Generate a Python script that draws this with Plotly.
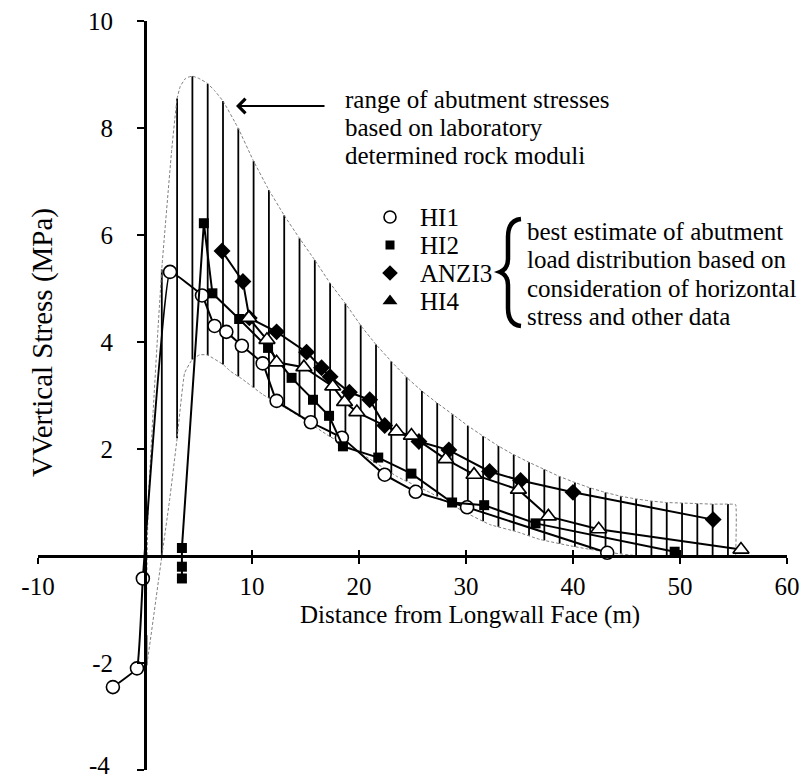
import numpy as np
import plotly.graph_objects as go

# ---------------- data ----------------
hi1_x = [-3.0, -0.75, -0.2, 2.34, 5.33, 6.5, 7.6, 9.05, 11.0, 12.3, 15.5, 18.4, 22.4, 25.3, 30.1, 43.2]
hi1_y = [-2.45, -2.1, -0.42, 5.31, 4.87, 4.3, 4.19, 3.93, 3.6, 2.9, 2.5, 2.21, 1.52, 1.2, 0.91, 0.06]

hi2_x = [3.45, 3.45, 3.45, 5.5, 6.3, 8.8, 11.5, 13.7, 15.7, 17.2, 18.5, 21.8, 24.9, 28.7, 31.7, 36.5, 49.5]
hi2_y = [-0.42, -0.2, 0.15, 6.22, 4.91, 4.43, 3.89, 3.33, 2.92, 2.62, 2.05, 1.84, 1.54, 1.0, 0.95, 0.61, 0.08]

anzi3_x = [7.2, 9.15, 9.75, 12.3, 15.1, 16.5, 17.3, 19.1, 21.0, 22.4, 25.6, 28.4, 32.2, 35.1, 40.0, 53.1]
anzi3_y = [5.7, 5.13, 4.45, 4.19, 3.81, 3.52, 3.35, 3.06, 2.92, 2.44, 2.14, 1.98, 1.58, 1.41, 1.19, 0.68]

hi4_x = [9.7, 11.4, 12.3, 14.85, 17.55, 18.65, 19.8, 23.5, 24.9, 28.1, 30.75, 34.9, 37.7, 42.4, 55.7]
hi4_y = [4.45, 4.04, 3.62, 3.53, 3.17, 2.88, 2.69, 2.33, 2.25, 1.81, 1.52, 1.24, 0.74, 0.5, 0.12]

# envelope of abutment stresses from laboratory rock moduli
upper_x = [0.1, 0.3, 0.75, 1.2, 1.6, 2.5, 3.0, 3.3, 3.8, 4.4, 5.0, 5.8, 6.5, 7.3, 8.7, 10.1, 11.5,
           13.0, 14.4, 15.9, 17.3, 18.8, 20.2, 21.6, 23.1, 24.5, 25.9, 27.3, 28.8, 30.2, 31.6, 33.0,
           34.4, 35.9, 37.3, 38.7, 40.1, 41.5, 43.0, 44.4, 45.8, 47.2, 48.7, 50.2, 51.6, 53.0, 54.5, 55.2]
upper_y = [-2.1, 1.0, 2.67, 4.2, 5.45, 7.6, 8.55, 8.78, 8.93, 8.97, 8.93, 8.84, 8.7, 8.5, 8.0, 7.4, 6.87,
           6.37, 5.95, 5.52, 5.1, 4.7, 4.3, 3.95, 3.62, 3.33, 3.08, 2.86, 2.64, 2.43, 2.24, 2.06,
           1.9, 1.75, 1.62, 1.49, 1.38, 1.28, 1.19, 1.12, 1.07, 1.03, 1.0, 0.99, 0.98, 0.97, 0.97, 0.96]
lower_x = [0.1, 1.3, 2.3, 3.0, 3.7, 4.4, 5.1, 5.8, 7.3, 8.0, 9.0, 11.0, 14.2, 17.3, 20.4, 23.6,
           26.6, 29.7, 32.2, 34.8, 36.9, 40.0, 43.2, 46.3, 55.2]
lower_y = [-2.1, -0.4, 1.05, 2.2, 3.42, 3.67, 3.76, 3.76, 3.58, 3.45, 3.32, 3.02, 2.64, 2.23, 1.89, 1.48,
           1.19, 0.84, 0.59, 0.45, 0.31, 0.18, 0.07, 0.0, 0.0]

x_ticks = [-10, 10, 20, 30, 40, 50, 60]
y_ticks = [-4, -2, 2, 4, 6, 8, 10]
y_ticktext = ["", "-2", "2", "4", "6", "8", "10"]   # "-4" drawn separately (sits at the page edge)

series_names = ["HI1", "HI2", "ANZI3", "HI4"]
note_range = ["range of abutment stresses", "based on laboratory", "determined rock moduli"]
note_best = ["best estimate of abutment", "load distribution based on",
             "consideration of horizontal", "stress and other data"]

FONT = "'Liberation Serif', 'Times New Roman', Times, serif"
FS = 25

fig = go.Figure()

# hatch (vertical lines between the envelopes)
hatch_pos = np.arange(0.14, 55.0, 1.43)
hx, hy = [], []
for xv in hatch_pos:
    lo = float(np.interp(xv, lower_x, lower_y))
    hi = float(np.interp(xv, upper_x, upper_y))
    if hi > lo:
        hx += [xv, xv, None]
        hy += [lo, hi, None]
fig.add_trace(go.Scatter(x=hx, y=hy, mode="lines", line=dict(color="black", width=1.8),
                         hoverinfo="skip", showlegend=False))

# dashed envelope outline
env_x = upper_x + [upper_x[-1]] + lower_x[::-1]
env_y = upper_y + [0.0] + lower_y[::-1]
fig.add_trace(go.Scatter(x=env_x, y=env_y, mode="lines",
                         line=dict(color="#808080", width=1, dash="3px,2px", shape="spline", smoothing=0.3),
                         hoverinfo="skip", showlegend=False))

# series
fig.add_trace(go.Scatter(x=hi1_x, y=hi1_y, mode="lines+markers", name="HI1",
                         line=dict(color="black", width=2, shape="spline", smoothing=0.25),
                         marker=dict(symbol="circle", size=13, color="white", line=dict(color="black", width=1.6)),
                         showlegend=False))
fig.add_trace(go.Scatter(x=hi2_x, y=hi2_y, mode="lines+markers", name="HI2",
                         line=dict(color="black", width=2),
                         marker=dict(symbol="square", size=10, color="black"), showlegend=False))
fig.add_trace(go.Scatter(x=anzi3_x, y=anzi3_y, mode="lines+markers", name="ANZI3",
                         line=dict(color="black", width=2),
                         marker=dict(symbol="diamond", size=13, color="black"), showlegend=False))
fig.add_trace(go.Scatter(x=hi4_x, y=hi4_y, mode="lines+markers", name="HI4",
                         line=dict(color="black", width=2),
                         marker=dict(symbol="triangle-up", size=14, color="white", line=dict(color="black", width=1.6)),
                         showlegend=False))

# invisible trace for the crossing-tick overlay axis
fig.add_trace(go.Scatter(x=[-10], y=[0], xaxis="x3", yaxis="y", mode="markers",
                         marker=dict(opacity=0), hoverinfo="skip", showlegend=False))

# manual legend (pixel-space overlay axes)
leg_y = [217, 245, 273, 301]
leg_sym = [dict(symbol="circle", size=12, color="white", line=dict(color="black", width=1.6)),
           dict(symbol="square", size=9, color="black"),
           dict(symbol="diamond", size=12, color="black"),
           dict(symbol="triangle-up", size=13, color="black")]
for name, yy, mk in zip(series_names, leg_y, leg_sym):
    fig.add_trace(go.Scatter(x=[390], y=[yy], xaxis="x2", yaxis="y2", mode="markers",
                             marker=mk, hoverinfo="skip", showlegend=False))

ann = []
for name, yy in zip(series_names, leg_y):
    ann.append(dict(x=418, y=yy, xref="x2", yref="y2", text=name, showarrow=False,
                    xanchor="left", yanchor="middle", font=dict(family=FONT, size=FS, color="black")))
for i, t in enumerate(note_range):
    ann.append(dict(x=343, y=99 + 28 * i, xref="x2", yref="y2", text=t, showarrow=False,
                    xanchor="left", yanchor="middle", font=dict(family=FONT, size=FS, color="black")))
for i, t in enumerate(note_best):
    ann.append(dict(x=525, y=231 + 28.5 * i, xref="x2", yref="y2", text=t, showarrow=False,
                    xanchor="left", yanchor="middle", font=dict(family=FONT, size=FS, color="black")))
# "-4" tick label at the bottom end of the y axis (nudged up to stay inside the page)
ann.append(dict(x=112, y=y_ticks[0], xref="x2", yref="y", text=str(y_ticks[0]), showarrow=False,
                xanchor="right", yanchor="middle", yshift=5,
                font=dict(family=FONT, size=FS, color="black")))
# arrow
ann.append(dict(x=236, y=106, xref="x2", yref="y2", ax=326, ay=106, axref="x2", ayref="y2",
                text="", showarrow=True, arrowhead=4, arrowsize=1.4, arrowwidth=2, arrowcolor="black"))
# y-axis title
ann.append(dict(x=42, y=343, xref="x2", yref="y2", text="VVertical Stress (MPa)", textangle=-90,
                showarrow=False, xanchor="center", yanchor="middle",
                font=dict(family=FONT, size=29, color="black")))
# x-axis title
ann.append(dict(x=470, y=615, xref="x2", yref="y2", text="Distance from Longwall Face (m)",
                showarrow=False, xanchor="center", yanchor="middle",
                font=dict(family=FONT, size=FS, color="black")))

brace = dict(type="path", xref="x2", yref="y2",
             path="M 521,219 C 511,220 508,227 508,237 L 508,259 C 508,266 505,270 500,272 "
                  "C 505,274 508,278 508,285 L 508,308 C 508,318 511,325 521,326",
             line=dict(color="black", width=4.5))

xpos = 4 / 14
ypos = 10 / 70
fig.update_layout(
    width=809, height=782,
    margin=dict(l=38, r=22, t=21, b=12, autoexpand=False),
    paper_bgcolor="white", plot_bgcolor="white",
    showlegend=False,
    annotations=ann,
    shapes=[brace],
    xaxis=dict(range=[-10, 60], anchor="free", position=xpos, showline=True, linecolor="black",
               linewidth=3, ticks="outside", ticklen=6, tickwidth=2, tickcolor="black",
               tickvals=x_ticks, ticktext=[str(v) for v in x_ticks], showgrid=False, zeroline=False,
               tickfont=dict(family=FONT, size=FS, color="black"), ticklabelstandoff=1,
               automargin=False, layer="above traces"),
    xaxis3=dict(range=[-10, 60], overlaying="x", anchor="free", position=xpos, showline=False,
                ticks="inside", ticklen=6, tickwidth=2, tickcolor="black", tickvals=x_ticks,
                showticklabels=False, showgrid=False, zeroline=False, automargin=False),
    yaxis=dict(range=[-4, 10], anchor="free", position=ypos, showline=True, linecolor="black",
               linewidth=3, ticks="outside", ticklen=7, tickwidth=2, tickcolor="black",
               tickvals=y_ticks, ticktext=y_ticktext, showgrid=False, zeroline=False,
               tickfont=dict(family=FONT, size=FS, color="black"), ticklabelstandoff=19,
               automargin=False, layer="above traces"),
    xaxis2=dict(range=[38, 787], overlaying="x", visible=False, anchor="y2"),
    yaxis2=dict(range=[770, 21], overlaying="y", visible=False, anchor="x2"),
)

fig.write_html(
    "out.html", config={"displayModeBar": False},
    post_script=("document.documentElement.style.overflow='hidden';"
                 "document.body.style.margin='0px';document.body.style.overflow='hidden';"))
